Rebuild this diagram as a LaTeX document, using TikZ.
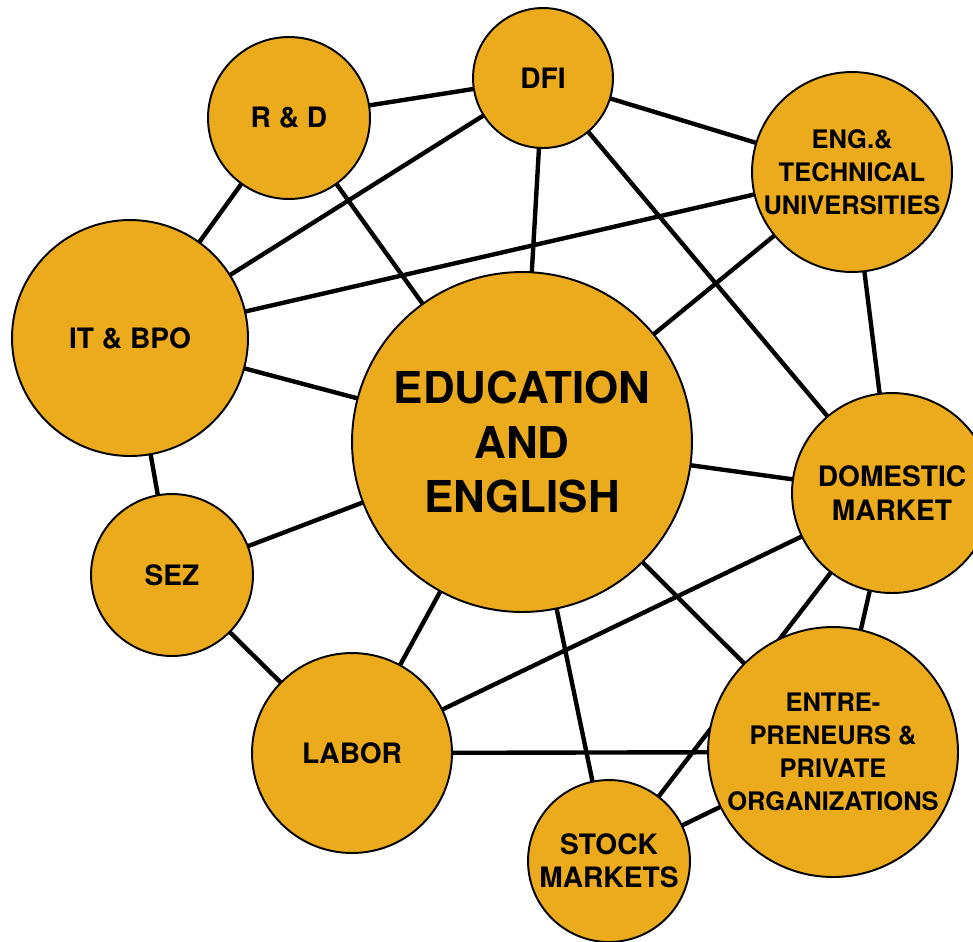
\documentclass[tikz,border=0pt]{standalone}
\usepackage{fontspec}
\setmainfont{TeX Gyre Heros}
\usetikzlibrary{backgrounds}
\definecolor{hubfill}{RGB}{236,171,28}
\tikzset{
  hub/.style={circle, draw=black, line width=1.1pt, fill=hubfill, inner sep=0pt,
    minimum size=#1, align=center},
  bigtext/.style={font=\fontsize{25pt}{31pt}\selectfont\bfseries},
  midtext/.style={font=\fontsize{16pt}{19pt}\selectfont\bfseries},
  smalltext/.style={font=\fontsize{14.5pt}{18.8pt}\selectfont\bfseries},
  link/.style={line width=2.5pt, black}
}
\begin{document}
\begin{tikzpicture}[x=0.02cm, y=-0.02cm]
            \useasboundingbox (0,0) rectangle (973,941);
            \clip (0,0) rectangle (973,941);

            \node [hub=6.8cm, bigtext] (EDU) at (522,442) {EDUCATION\\AND\\ENGLISH};
            \node [hub=3.24cm, midtext] (RD) at (289,118) {R \& D};
            \node [hub=2.8cm, midtext] (DFI) at (543,78) {DFI};
            \node [hub=4cm, smalltext] (ENG) at (852,172) {ENG.\&\\TECHNICAL\\UNIVERSITIES};
            \node [hub=4.72cm, midtext] (IT) at (130,338) {IT \& BPO};
            \node [hub=4cm, midtext] (DOM) at (892,493) {DOMESTIC\\MARKET};
            \node [hub=3.24cm, midtext] (SEZ) at (172,575) {SEZ};
            \node [hub=4cm, midtext] (LAB) at (352,753) {LABOR};
            \node [hub=5cm, smalltext] (ENT) at (833,752) {ENTRE-\\PRENEURS \&\\PRIVATE\\ORGANIZATIONS};
            \node [hub=3.24cm, midtext] (STK) at (609,861) {STOCK\\MARKETS};

            % links run from centre to centre, behind the circles
            \begin{pgfonlayer}{background}
                \foreach \a/\b in {RD/DFI, DFI/ENG, RD/IT, RD/EDU, DFI/IT, DFI/EDU, DFI/DOM,
                                   ENG/IT, ENG/EDU, ENG/DOM, IT/EDU, IT/SEZ, EDU/DOM, SEZ/EDU,
                                   SEZ/LAB, EDU/LAB, DOM/LAB, EDU/ENT, EDU/STK, LAB/ENT,
                                   DOM/ENT, DOM/STK, STK/ENT}
                    \draw [link] (\a.center) -- (\b.center);
            \end{pgfonlayer}

\end{tikzpicture}
\end{document}
